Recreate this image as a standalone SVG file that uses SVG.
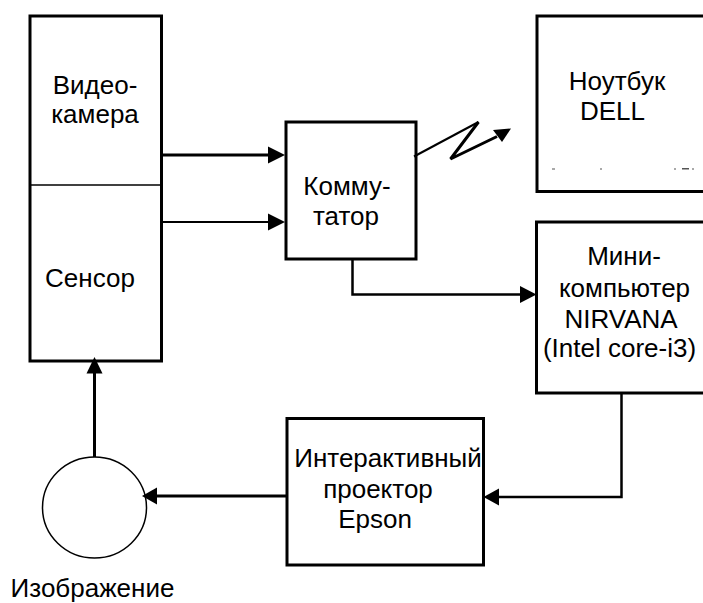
<svg xmlns="http://www.w3.org/2000/svg" width="703" height="603" viewBox="0 0 703 603">
<style>
.box{fill:#fff;stroke:#000;stroke-width:3}
.t{font-family:"Liberation Sans",Arial,sans-serif;font-size:26px;fill:#000;text-anchor:middle}
.c{fill:none;stroke:#000;stroke-linejoin:miter}
.ah{fill:#000;stroke:none}
</style>
<rect width="703" height="603" fill="#fff"/>
<g id="sensor-camera">
<rect class="box" x="30" y="16" width="131.5" height="345"/>
<line x1="30" y1="185" x2="161.5" y2="185" stroke="#000" stroke-width="1.5"/>
<text class="t" x="95" y="94">Видео-</text>
<text class="t" x="95" y="123">камера</text>
<text class="t" x="90" y="287">Сенсор</text>
</g>
<g id="commutator">
<rect class="box" x="286" y="122" width="130" height="137"/>
<text class="t" x="347" y="195">Комму-</text>
<text class="t" x="346" y="225">татор</text>
</g>
<g id="notebook">
<rect class="box" x="537" y="16" width="180" height="175.5"/>
<text class="t" x="617" y="90">Ноутбук</text>
<text class="t" x="612.5" y="120">DELL</text>
<g fill="#555">
<rect x="552" y="168.5" width="3" height="1"/>
<rect x="600" y="168.5" width="2" height="1"/>
<rect x="674" y="168.5" width="2" height="1"/>
<rect x="682" y="168" width="7" height="1.5"/>
<rect x="692" y="168.5" width="2" height="1"/>
</g>
</g>
<g id="minicomputer">
<rect class="box" x="536.5" y="222" width="180" height="171"/>
<text class="t" x="624" y="265">Мини-</text>
<text class="t" x="624.5" y="296.5">компьютер</text>
<text class="t" x="621" y="327.5">NIRVANA</text>
<text class="t" x="619.5" y="357">(Intel core-i3)</text>
</g>
<g id="projector">
<rect class="box" x="287" y="418.5" width="196.5" height="146.5"/>
<text class="t" x="388" y="467">Интерактивный</text>
<text class="t" x="378" y="498">проектор</text>
<text class="t" x="375" y="528">Epson</text>
</g>
<g id="image">
<ellipse cx="94.5" cy="507.5" rx="52" ry="50.5" fill="#fff" stroke="#000" stroke-width="1.5"/>
<text class="t" x="92.5" y="596.5">Изображение</text>
</g>
<g id="connectors">
<line class="c" x1="161.5" y1="155" x2="268" y2="155" stroke-width="3"/>
<polygon class="ah" points="285,155 268,146.5 268,163.5"/>
<line class="c" x1="161.5" y1="222" x2="268" y2="222" stroke-width="2"/>
<polygon class="ah" points="285,222 268,213.5 268,230.5"/>
<polyline class="c" points="352.5,259 352.5,294.5 520,294.5" stroke-width="2.5"/>
<polygon class="ah" points="536.5,294.5 520,286 520,303"/>
<polyline class="c" points="414,156.5 478.5,122" stroke-width="2"/>
<polyline class="c" points="478.5,122 450.5,159 497,136.5" stroke-width="3"/>
<polygon class="ah" points="511,128.5 493,130 502,142"/>
<polyline class="c" points="621.5,393 621.5,497 498,497" stroke-width="2.5"/>
<polygon class="ah" points="483.5,497 499,488.5 499,505.5"/>
<line class="c" x1="287" y1="496" x2="157" y2="496" stroke-width="3"/>
<polygon class="ah" points="142,496 157,487.5 157,504.5"/>
<line class="c" x1="94.5" y1="457" x2="94.5" y2="373" stroke-width="3"/>
<polygon class="ah" points="94.5,357 86.5,373.5 102.5,373.5"/>
</g>
</svg>
